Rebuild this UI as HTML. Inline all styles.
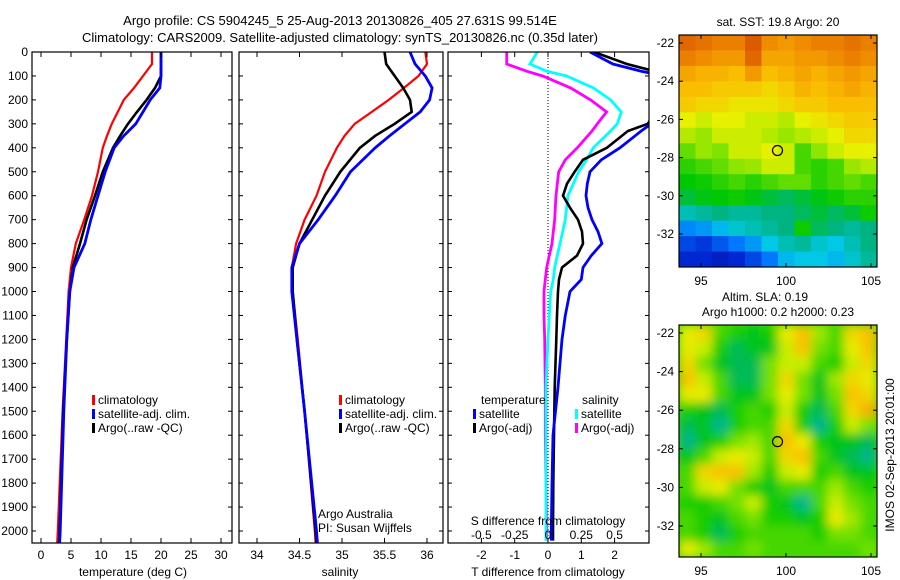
<!DOCTYPE html>
<html><head><meta charset="utf-8"><style>
body{margin:0;background:#fff;}
svg{display:block;font-family:"Liberation Sans",sans-serif;}
text{font-size:12px;fill:#000;}
</style></head><body>
<svg id="c" width="900" height="580" viewBox="0 0 900 580" xmlns="http://www.w3.org/2000/svg">
<defs>
<clipPath id="cp1"><rect x="32" y="52" width="200" height="491"/></clipPath>
<clipPath id="cp2"><rect x="239" y="52" width="204" height="491"/></clipPath>
<clipPath id="cp3"><rect x="448" y="52" width="201" height="491"/></clipPath>
<clipPath id="cpm2"><rect x="679" y="325" width="198" height="232"/></clipPath>
<filter id="bl" x="-10%" y="-10%" width="120%" height="120%"><feGaussianBlur stdDeviation="5"/></filter>
</defs>
<text x="340" y="25" text-anchor="middle" style="font-size:13px">Argo profile: CS 5904245_5 25-Aug-2013 20130826_405 27.631S 99.514E</text>
<text x="340" y="42" text-anchor="middle" style="font-size:13px">Climatology: CARS2009. Satellite-adjusted climatology: synTS_20130826.nc (0.35d later)</text>
<g id="g"></g>
</svg>
<script>
// ---- data ----
var depths = [0,50,100,150,200,250,300,350,400,500,600,700,800,900,1000,1200,1500,2000,2050];
var tClim = [18.5,18.5,17,15.5,13.8,12.8,11.8,11,10.3,9.5,8.5,7.2,5.8,5,4.6,4.2,3.6,2.8,2.7];
var tSat  = [20,20,20,19.8,18.2,17,15.8,13.8,12.2,10.7,9.5,8.3,7.3,5.5,4.8,4.3,3.8,3.2,3.1];
var tArgo = [20,20,20,19,17.6,16,14.5,13.2,12,10.3,9,7.6,6.5,5.3,4.8,4.3,3.7,3.1,3.0];
var sClim = [35.98,36.0,35.9,35.73,35.55,35.35,35.15,35.03,34.94,34.8,34.7,34.56,34.46,34.41,34.42,34.48,34.56,34.68,34.69];
var sSat  = [35.8,35.86,35.98,36.06,36.03,35.92,35.74,35.56,35.39,35.1,34.92,34.72,34.5,34.41,34.41,34.47,34.56,34.7,34.71];
var sArgo = [35.5,35.52,35.62,35.72,35.8,35.82,35.62,35.39,35.21,34.98,34.8,34.65,34.5,34.42,34.42,34.47,34.56,34.69,34.7];
var dDepths = [0,50,80,100,150,200,250,300,330,400,450,500,550,600,650,700,750,800,850,900,950,1000,1100,1200,1400,1600,1800,2000,2040];
var dTSat  = [1.26,1.95,2.8,3.5,3.6,3.6,3.5,3.1,2.8,2.16,1.6,1.26,1.18,1.14,1.2,1.32,1.5,1.62,1.3,1.05,1.0,0.66,0.52,0.42,0.3,0.15,0.12,0.1,0.1];
var dTArgo = [1.38,2.37,3.2,3.5,3.5,3.4,3.2,3.0,2.4,1.77,1.05,0.8,0.57,0.45,0.66,0.9,1.02,1.05,0.87,0.42,0.33,0.3,0.27,0.25,0.2,0.18,0.16,0.15,0.15];
var dSSat  = [-0.08,-0.135,-0.01,0.14,0.34,0.47,0.55,0.52,0.47,0.34,0.29,0.23,0.19,0.15,0.14,0.13,0.11,0.09,0.07,0.05,0.04,0.02,0.01,0,-0.015,-0.015,-0.015,-0.015,-0.015];
var dSArgo = [-0.31,-0.31,-0.16,-0.04,0.17,0.32,0.44,0.37,0.33,0.22,0.13,0.08,0.07,0.06,0.055,0.05,0.04,0.03,0.01,-0.01,-0.02,-0.03,-0.03,-0.025,-0.02,-0.02,-0.015,-0.01,-0.01];
var depthTicks = [0,100,200,300,400,500,600,700,800,900,1000,1100,1200,1300,1400,1500,1600,1700,1800,1900,2000];
var tTicks = [0,5,10,15,20,25,30];
var sTicks = [34,34.5,35,35.5,36];
var dtTicks = [-2,-1,0,1,2];
var dsTicks = [-0.5,-0.25,0,0.25,0.5];
var sstGrid = [
[.84,.82,.8,.8,.86,.78,.76,.78,.8,.8,.82,.8],
[.8,.78,.76,.76,.84,.74,.74,.76,.76,.78,.8,.78],
[.74,.72,.72,.7,.76,.7,.72,.74,.72,.74,.76,.74],
[.7,.7,.68,.68,.68,.66,.68,.72,.7,.72,.74,.72],
[.68,.66,.66,.64,.64,.64,.66,.68,.68,.7,.7,.7],
[.62,.6,.62,.62,.6,.6,.58,.62,.64,.66,.68,.68],
[.58,.56,.6,.6,.6,.58,.56,.58,.6,.62,.66,.66],
[.52,.56,.54,.6,.6,.62,.6,.5,.55,.6,.62,.62],
[.48,.5,.52,.55,.56,.6,.6,.5,.48,.5,.56,.58],
[.45,.46,.48,.5,.48,.5,.52,.52,.48,.5,.52,.5],
[.42,.44,.45,.46,.44,.42,.4,.42,.44,.46,.48,.48],
[.34,.36,.38,.36,.36,.38,.38,.4,.42,.4,.42,.46],
[.22,.24,.28,.32,.34,.36,.38,.46,.4,.38,.36,.38],
[.14,.12,.16,.2,.24,.3,.34,.36,.32,.3,.34,.38],
[.1,.1,.08,.1,.14,.2,.28,.3,.3,.28,.32,.36]];
var slaGrid = [
[.58,.6,.5,.48,.46,.48,.58,.62,.54,.5,.6,.62],
[.58,.56,.48,.44,.46,.46,.56,.62,.52,.5,.58,.62],
[.6,.52,.46,.44,.44,.52,.56,.56,.5,.48,.56,.6],
[.62,.56,.5,.44,.44,.52,.6,.52,.46,.54,.6,.58],
[.58,.58,.5,.46,.46,.52,.58,.52,.46,.52,.62,.6],
[.48,.46,.44,.48,.5,.48,.56,.48,.44,.5,.6,.64],
[.44,.46,.42,.48,.5,.5,.6,.48,.42,.48,.56,.52],
[.42,.46,.48,.52,.54,.5,.62,.58,.48,.46,.46,.44],
[.46,.5,.56,.58,.56,.5,.6,.62,.5,.46,.44,.42],
[.5,.6,.62,.62,.54,.48,.56,.58,.48,.5,.46,.46],
[.5,.56,.58,.52,.48,.46,.5,.5,.5,.54,.5,.48],
[.48,.48,.5,.52,.56,.48,.46,.42,.5,.56,.52,.5],
[.5,.48,.46,.5,.52,.48,.48,.46,.48,.58,.54,.5],
[.5,.48,.44,.48,.5,.5,.5,.5,.48,.52,.52,.5],
[.58,.54,.5,.5,.52,.5,.5,.5,.5,.5,.5,.52]];
var lonTicks = [95,100,105];
var latTicks = [-22,-24,-26,-28,-30,-32];
var argoLon = 99.5, argoLat = -27.63;

// ---- helpers ----
var NS="http://www.w3.org/2000/svg", G=document.getElementById('g');
function mk(t,a,p){var e=document.createElementNS(NS,t);for(var k in a)e.setAttribute(k,a[k]);(p||G).appendChild(e);return e;}
function txt(x,y,s,anc,size,p){var e=mk('text',{x:x,y:y,'text-anchor':anc||'start'},p);if(size)e.style.fontSize=size+'px';e.textContent=s;return e;}
function yD(d){return 52+d*0.2395;}
function xT(t){return 41+t*6;}
function xS(s){return 257+(s-34)*85;}
function xDT(t){return 548+t*33.3;}
function xDS(s){return 548+s*133.2;}
function lonX(l){return 701+(l-95)*17;}
function latY1(l){return 43+(-22-l)*19.1;}
function latY2(l){return 333+(-22-l)*19.3;}
var cmapStops=[[0,0,0,130],[0.1,0,40,210],[0.2,0,120,255],[0.3,0,200,230],[0.38,0,180,130],[0.45,0,200,0],[0.55,140,230,0],[0.62,230,240,0],[0.7,250,190,0],[0.78,240,140,0],[0.86,220,90,0],[1,170,20,0]];
function jet(v){v=Math.max(0,Math.min(1,v));for(var i=1;i<cmapStops.length;i++){var a=cmapStops[i-1],b=cmapStops[i];if(v<=b[0]){var f=(v-a[0])/(b[0]-a[0]);return 'rgb('+Math.round(a[1]+f*(b[1]-a[1]))+','+Math.round(a[2]+f*(b[2]-a[2]))+','+Math.round(a[3]+f*(b[3]-a[3]))+')';}}return 'rgb(170,20,0)';}

var panels=[{x:32,w:200,cp:'cp1'},{x:239,w:204,cp:'cp2'},{x:448,w:201,cp:'cp3'}];
depthTicks.forEach(function(d){
  var t=txt(28,yD(d)+4,String(d),'end');
  
  
  panels.forEach(function(p){mk('line',{x1:p.x,x2:p.x+4,y1:yD(d),y2:yD(d),stroke:'#000'});mk('line',{x1:p.x+p.w-4,x2:p.x+p.w,y1:yD(d),y2:yD(d),stroke:'#000'});});
});
function series(xs,vals,xf,col,w,cp,name){
  var pts=vals.map(function(v,i){return xf(v).toFixed(1)+','+yD(xs[i]).toFixed(1);}).join(' ');
  var e=mk('polyline',{points:pts,fill:'none',stroke:col,'stroke-width':w,'clip-path':'url(#'+cp+')'});
  
  
}
series(depths,tClim,xT,'#f00',2.2,'cp1','temp-climatology-line');
series(depths,tArgo,xT,'#000',2.6,'cp1','temp-argo-line');
series(depths,tSat,xT,'#00f',2.8,'cp1','temp-satellite-line');
tTicks.forEach(function(t){var x=xT(t);mk('line',{x1:x,x2:x,y1:52,y2:57,stroke:'#000'});mk('line',{x1:x,x2:x,y1:538,y2:543,stroke:'#000'});
  var e=txt(x,559,String(t),'middle');});
var xl1=txt(133,576,'temperature (deg C)','middle');
series(depths,sClim,xS,'#f00',2.2,'cp2','sal-climatology-line');
series(depths,sArgo,xS,'#000',2.6,'cp2','sal-argo-line');
series(depths,sSat,xS,'#00f',2.8,'cp2','sal-satellite-line');
sTicks.forEach(function(s){var x=xS(s);mk('line',{x1:x,x2:x,y1:52,y2:57,stroke:'#000'});mk('line',{x1:x,x2:x,y1:538,y2:543,stroke:'#000'});
  var e=txt(x,559,String(s),'middle');});
var xl2=txt(340,576,'salinity','middle');
mk('line',{x1:548,x2:548,y1:52,y2:543,stroke:'#000','stroke-dasharray':'1,2'});
series(dDepths,dSArgo,xDS,'#f0f',2.8,'cp3','sal-diff-argo-line');
series(dDepths,dSSat,xDS,'#0ff',2.8,'cp3','sal-diff-satellite-line');
series(dDepths,dTArgo,xDT,'#000',2.6,'cp3','temp-diff-argo-line');
series(dDepths,dTSat,xDT,'#00f',2.8,'cp3','temp-diff-satellite-line');
dtTicks.forEach(function(t){var x=xDT(t);mk('line',{x1:x,x2:x,y1:52,y2:57,stroke:'#000'});mk('line',{x1:x,x2:x,y1:538,y2:543,stroke:'#000'});
  var e=txt(x,559,String(t),'middle');});
dsTicks.forEach(function(s){var e=txt(xDS(s),539,String(s),'middle');});
var xl3=txt(548,525,'S difference from climatology','middle');
var xl4=txt(548,576,'T difference from climatology','middle');
panels.forEach(function(p){var r=mk('rect',{x:p.x,y:52,width:p.w,height:491,fill:'none',stroke:'#000','stroke-width':1.2});});
function leg(x,y,col,label,name){mk('rect',{x:x,y:y-9,width:3,height:10,fill:col});var e=txt(x+6,y,label,'start');}
leg(92,404,'#f00','climatology','legend-climatology');
leg(92,418,'#00f','satellite-adj. clim.','legend-satellite-adj');
leg(92,432,'#000','Argo(..raw -QC)','legend-argo-raw');
leg(339,404,'#f00','climatology','legend2-climatology');
leg(339,418,'#00f','satellite-adj. clim.','legend2-satellite-adj');
leg(339,432,'#000','Argo(..raw -QC)','legend2-argo-raw');
var lt=txt(481,404,'temperature','start');
var ls=txt(582,404,'salinity','start');
leg(473,418,'#00f','satellite','legend-temp-satellite');
leg(473,432,'#000','Argo(-adj)','legend-temp-argo');
leg(575,418,'#0ff','satellite','legend-sal-satellite');
leg(575,432,'#f0f','Argo(-adj)','legend-sal-argo');
var a1=txt(318,518,'Argo Australia','start');
var a2=txt(318,532,'PI: Susan Wijffels','start');

function drawGrid(grid,y0,h,parent,gain){var rows=grid.length,cols=grid[0].length,cw=198/cols,ch=h/rows;
  grid.forEach(function(row,i){row.forEach(function(v,j){
    var vv=0.5+(v-0.5)*gain;
    var r=mk('rect',{x:(679+j*cw).toFixed(2),y:(y0+i*ch).toFixed(2),width:(cw+0.5).toFixed(2),height:(ch+0.5).toFixed(2),fill:jet(vv)},parent);
    
    
  });});}
var m1=mk('g',{});
drawGrid(sstGrid,35,232,m1,1);
var m2wrap=mk('g',{'clip-path':'url(#cpm2)'});
mk('rect',{x:679,y:325,width:198,height:232,fill:jet(0.5)},m2wrap);
var m2=mk('g',{filter:'url(#bl)'},m2wrap);
drawGrid(slaGrid,325,232,m2,1.6);
[[35,latY1],[325,latY2]].forEach(function(m){
  var y0=m[0],ly=m[1];
  mk('rect',{x:679,y:y0,width:198,height:232,fill:'none',stroke:'#000','stroke-width':1.2});
  lonTicks.forEach(function(l){var x=lonX(l);mk('line',{x1:x,x2:x,y1:y0,y2:y0+4,stroke:'#000'});mk('line',{x1:x,x2:x,y1:y0+228,y2:y0+232,stroke:'#000'});
    var e=txt(x,y0+250,String(l),'middle');});
  latTicks.forEach(function(l){var y=ly(l);mk('line',{x1:679,x2:683,y1:y,y2:y,stroke:'#000'});mk('line',{x1:873,x2:877,y1:y,y2:y,stroke:'#000'});
    var e=txt(674,y+4,String(l),'end');});
  var c=mk('circle',{cx:lonX(argoLon),cy:ly(argoLat),r:5,fill:'none',stroke:'#000','stroke-width':1.2});
  
});
var t1=txt(778,26,'sat. SST: 19.8 Argo: 20','middle');
var t2=txt(765,301,'Altim. SLA: 0.19','middle');
var t3=txt(778,316,'Argo h1000: 0.2 h2000: 0.23','middle');
var im=txt(0,0,'IMOS 02-Sep-2013 20:01:00','middle');im.setAttribute('transform','translate(894,455) rotate(-90)');


</script>
</body></html>
